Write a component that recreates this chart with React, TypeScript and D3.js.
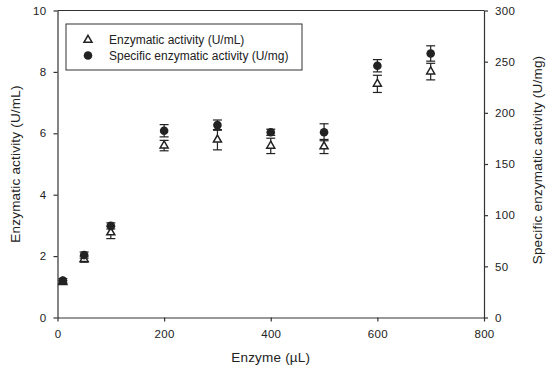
import React, { useEffect, useRef } from 'react';
import * as d3 from 'd3';

// enzyme volume (µL)
const enzyme = [10, 50, 100, 200, 300, 400, 500, 600, 700];
// enzymatic activity (U/mL) - left axis, open triangles
const activity = [1.15, 1.9, 2.77, 5.6, 5.79, 5.59, 5.57, 7.61, 8.01];
const activityErr = [0.05, 0.1, 0.2, 0.17, 0.33, 0.25, 0.23, 0.28, 0.27];
// specific enzymatic activity (U/mg) - right axis, filled circles
const specific = [36, 61, 89.5, 182.5, 188, 181, 181, 246, 258];
const specificErr = [2, 3, 3, 6, 5, 3, 8.3, 6, 7.5];

const xTicks = [0, 200, 400, 600, 800];
const yLeftTicks = [0, 2, 4, 6, 8, 10];
const yRightTicks = [0, 50, 100, 150, 200, 250, 300];

const W = 550;
const H = 373;
const m = { left: 57.5, right: 484, top: 10.5, bottom: 317.5 };
const FONT = 'Liberation Sans, Arial, sans-serif';
const INK = '#222';

export default function App() {
  const ref = useRef<SVGSVGElement>(null);

  useEffect(() => {
    const svg = d3.select(ref.current);
    svg.selectAll('*').remove();

    const x = d3.scaleLinear().domain([0, 800]).range([m.left, m.right]);
    const yL = d3.scaleLinear().domain([0, 10]).range([m.bottom, m.top]);
    const yR = d3.scaleLinear().domain([0, 300]).range([m.bottom, m.top]);

    const styleAxis = (g: any) => {
      g.selectAll('path, line').attr('stroke', '#333').attr('stroke-width', 1.2);
      g.selectAll('text')
        .attr('fill', INK)
        .attr('font-family', FONT)
        .attr('font-size', 11.5)
        .attr('letter-spacing', 0.3);
    };

    // top frame line
    svg
      .append('line')
      .attr('x1', m.left)
      .attr('x2', m.right)
      .attr('y1', m.top)
      .attr('y2', m.top)
      .attr('stroke', '#333')
      .attr('stroke-width', 1.2);

    svg
      .append('g')
      .attr('transform', `translate(0,${m.bottom})`)
      .call(d3.axisBottom(x).tickValues(xTicks).tickSize(4).tickSizeOuter(0).tickPadding(8))
      .call(styleAxis);

    svg
      .append('g')
      .attr('transform', `translate(${m.left},0)`)
      .call(d3.axisLeft(yL).tickValues(yLeftTicks).tickSize(4).tickSizeOuter(0).tickPadding(7))
      .call(styleAxis);

    svg
      .append('g')
      .attr('transform', `translate(${m.right},0)`)
      .call(d3.axisRight(yR).tickValues(yRightTicks).tickSize(4).tickSizeOuter(0).tickPadding(7))
      .call(styleAxis);

    // axis titles
    const title = (sel: any) =>
      sel
        .attr('text-anchor', 'middle')
        .attr('dominant-baseline', 'central')
        .attr('font-family', FONT)
        .attr('font-size', 13.5)
        .attr('letter-spacing', 0.2)
        .attr('fill', INK);

    svg
      .append('text')
      .attr('x', (m.left + m.right) / 2)
      .attr('y', 357)
      .call(title)
      .text('Enzyme (µL)');

    svg
      .append('text')
      .attr('transform', `translate(15,${(m.top + m.bottom) / 2}) rotate(-90)`)
      .call(title)
      .text('Enzymatic activity (U/mL)');

    svg
      .append('text')
      .attr('transform', `translate(537,${(m.top + m.bottom) / 2 - 4}) rotate(-90)`)
      .call(title)
      .text('Specific enzymatic activity (U/mg)');

    const cap = 4.5;
    const errBars = (yS: any, vals: number[], errs: number[]) => {
      const g = svg.append('g').attr('stroke', INK).attr('stroke-width', 1.2);
      enzyme.forEach((e, i) => {
        const cx = x(e);
        const y1 = yS(vals[i] + errs[i]);
        const y2 = yS(vals[i] - errs[i]);
        g.append('line').attr('x1', cx).attr('x2', cx).attr('y1', y1).attr('y2', y2);
        g.append('line').attr('x1', cx - cap).attr('x2', cx + cap).attr('y1', y1).attr('y2', y1);
        g.append('line').attr('x1', cx - cap).attr('x2', cx + cap).attr('y1', y2).attr('y2', y2);
      });
    };
    errBars(yL, activity, activityErr);
    errBars(yR, specific, specificErr);

    const tri = d3.symbol().type(d3.symbolTriangle).size(28);

    svg
      .append('g')
      .selectAll('path')
      .data(enzyme)
      .join('path')
      .attr('d', tri)
      .attr('transform', (d, i) => `translate(${x(d)},${yL(activity[i])})`)
      .attr('fill', '#fff')
      .attr('stroke', INK)
      .attr('stroke-width', 1.5);

    svg
      .append('g')
      .selectAll('circle')
      .data(enzyme)
      .join('circle')
      .attr('cx', d => x(d))
      .attr('cy', (d, i) => yR(specific[i]))
      .attr('r', 4.3)
      .attr('fill', INK);

    // legend
    const lg = svg.append('g');
    lg.append('rect')
      .attr('x', 66)
      .attr('y', 24)
      .attr('width', 236)
      .attr('height', 46)
      .attr('fill', '#fff')
      .attr('stroke', '#333')
      .attr('stroke-width', 1);
    lg.append('path')
      .attr('d', tri)
      .attr('transform', 'translate(88,40)')
      .attr('fill', '#fff')
      .attr('stroke', INK)
      .attr('stroke-width', 1.5);
    lg.append('circle').attr('cx', 88).attr('cy', 55.5).attr('r', 4.3).attr('fill', INK);
    lg.selectAll('text')
      .data(['Enzymatic activity (U/mL)', 'Specific enzymatic activity (U/mg)'])
      .join('text')
      .attr('x', 109)
      .attr('y', (d, i) => 40 + i * 15.5)
      .attr('dominant-baseline', 'central')
      .attr('font-family', FONT)
      .attr('font-size', 12)
      .attr('fill', INK)
      .text(d => d);
  }, []);

  return (
    <svg ref={ref} width={W} height={H} style={{ position: 'absolute', left: 0, top: 0, background: '#fff' }} />
  );
}
